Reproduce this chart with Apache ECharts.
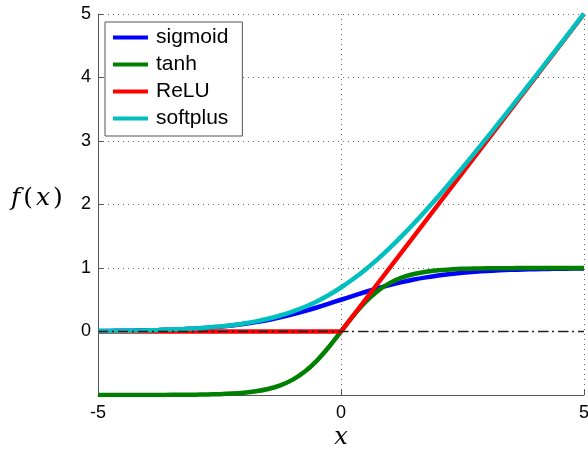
<!DOCTYPE html>
<html>
<head>
<meta charset="utf-8">
<script src="https://cdn.jsdelivr.net/npm/echarts@6/dist/echarts.min.js"></script>
<style>html,body{margin:0;padding:0;background:#fff;}#c{width:588px;height:456px;}</style>
</head>
<body>
<div id="c"></div>
<script>
// x sample positions (every 0.25)
const xs = [-5,-4.75,-4.5,-4.25,-4,-3.75,-3.5,-3.25,-3,-2.75,-2.5,-2.25,-2,-1.75,-1.5,-1.25,-1,-0.75,-0.5,-0.25,0,
  0.25,0.5,0.75,1,1.25,1.5,1.75,2,2.25,2.5,2.75,3,3.25,3.5,3.75,4,4.25,4.5,4.75,5];
const sigmoidVals = [0.007,0.009,0.011,0.014,0.018,0.023,0.029,0.037,0.047,0.060,0.076,0.095,0.119,0.148,0.182,0.223,0.269,0.321,0.378,0.438,0.5,
  0.562,0.622,0.679,0.731,0.777,0.818,0.852,0.881,0.905,0.924,0.940,0.953,0.963,0.971,0.977,0.982,0.986,0.989,0.991,0.993];
const tanhVals = [-1,-1,-1,-1,-0.999,-0.999,-0.998,-0.997,-0.995,-0.992,-0.987,-0.978,-0.964,-0.941,-0.905,-0.848,-0.762,-0.635,-0.462,-0.245,0,
  0.245,0.462,0.635,0.762,0.848,0.905,0.941,0.964,0.978,0.987,0.992,0.995,0.997,0.998,0.999,0.999,1,1,1,1];
const reluX = [-5,0,5];
const reluVals = [0,0,5];
const softplusVals = [0.007,0.009,0.011,0.014,0.018,0.023,0.030,0.038,0.049,0.062,0.079,0.100,0.127,0.160,0.201,0.252,0.313,0.386,0.474,0.576,0.693,
  0.826,0.974,1.136,1.313,1.502,1.701,1.910,2.127,2.350,2.579,2.812,3.049,3.288,3.530,3.773,4.018,4.264,4.511,4.759,5.007];
const zeroLineX = [-5,5];
const zeroLineY = [0,0];
const seriesNames = ['sigmoid','tanh','ReLU','softplus'];
const xTicks = [-5,0,5];
const yTicks = [-1,0,1,2,3,4,5];
const yLabelsShown = ['0','1','2','3','4','5'];

const pair = (a,b) => a.map((v,i)=>[v,b[i]]);
const colors = ['#0000ff','#008000','#ff0000','#00bfbf'];
const lineW = 4.5;

const chart = echarts.init(document.getElementById('c'), null, {renderer:'canvas'});
const axisCommon = {
  axisLine:{show:true,onZero:false,lineStyle:{color:'#555',width:1}},
  axisTick:{show:true,inside:true,length:5,lineStyle:{color:'#555'}},
  splitLine:{show:true,lineStyle:{color:'#666',type:[1,4],width:1}},
  axisLabel:{color:'#000',fontSize:18,fontFamily:'Liberation Sans, Arial, sans-serif'}
};
chart.setOption({
  animation:false,
  backgroundColor:'#fff',
  grid:{left:98,right:4,top:14,bottom:61,containLabel:false,outerBoundsMode:'none'},
  xAxis:Object.assign({type:'value',min:xTicks[0],max:xTicks[xTicks.length-1],interval:5},axisCommon,{axisLabel:Object.assign({},axisCommon.axisLabel,{margin:9})}),
  yAxis:Object.assign({type:'value',min:yTicks[0],max:yTicks[yTicks.length-1],interval:1},axisCommon,{axisLabel:Object.assign({},axisCommon.axisLabel,{margin:7,
    formatter:v => yLabelsShown.indexOf(String(v))>=0 ? String(v) : ''})}),
  legend:{
    show:true,data:seriesNames,orient:'vertical',left:105,top:22,
    backgroundColor:'#fff',borderColor:'#555',borderWidth:1,
    padding:[5,14,7,8],itemGap:6,itemWidth:35,itemHeight:4,icon:'rect',
    textStyle:{fontSize:21,lineHeight:21,color:'#000',fontFamily:'Liberation Sans, Arial, sans-serif',padding:[0,0,0,3]}
  },
  series:[
    {name:seriesNames[0],type:'line',data:pair(xs,sigmoidVals),smooth:0.3,showSymbol:false,lineStyle:{color:colors[0],width:lineW},itemStyle:{color:colors[0]}},
    {name:seriesNames[1],type:'line',data:pair(xs,tanhVals),smooth:0.3,showSymbol:false,lineStyle:{color:colors[1],width:lineW},itemStyle:{color:colors[1]}},
    {name:seriesNames[2],type:'line',data:pair(reluX,reluVals),showSymbol:false,lineStyle:{color:colors[2],width:lineW},itemStyle:{color:colors[2]}},
    {name:seriesNames[3],type:'line',data:pair(xs,softplusVals),smooth:0.3,showSymbol:false,lineStyle:{color:colors[3],width:lineW},itemStyle:{color:colors[3]}},
    {name:'zero',type:'line',data:pair(zeroLineX,zeroLineY),showSymbol:false,silent:true,z:5,lineStyle:{color:'#222',width:1.4,type:[10,4,2,4]}}
  ],
  graphic:[
    {type:'text',left:11,top:186,style:{
      text:'{i|f}{n|(}{i|x}{n|)}',
      rich:{
        i:{fontFamily:'DejaVu Serif',fontStyle:'italic',fontSize:25,fill:'#000'},
        n:{fontFamily:'DejaVu Serif',fontSize:25,fill:'#000',padding:[0,3,0,3]}
      }
    }},
    {type:'text',x:341,y:438,style:{text:'x',fontFamily:'DejaVu Serif',fontStyle:'italic',fontSize:24,fill:'#000',align:'center',verticalAlign:'middle'}}
  ]
});
</script>
</body>
</html>
